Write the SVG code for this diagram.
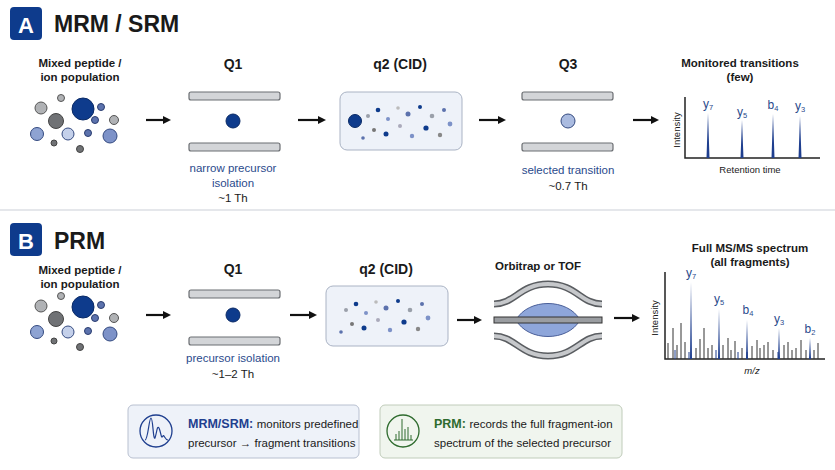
<svg xmlns="http://www.w3.org/2000/svg" width="835" height="470" viewBox="0 0 835 470">
<style>
text{font-family:"Liberation Sans",Arial,sans-serif;fill:#1a1a1a}
.h{font-size:14px;font-weight:bold;text-anchor:middle}
.s{font-size:11.5px;font-weight:bold;text-anchor:middle}
.b{font-size:11.5px;text-anchor:middle;fill:#2a4a8c}
.k{font-size:11.5px;text-anchor:middle}
.rod{fill:#d3d5d8;stroke:#6b6e72;stroke-width:1.2}
.ar{stroke:#111;stroke-width:2.2;fill:none;marker-end:url(#ah)}
.ax{stroke:#222;stroke-width:1.5;fill:none}
.pk{fill:#1f3f8f}
.pl{font-size:12px;fill:#2a4a8c;text-anchor:middle}
.g{fill:#b0b2b5;stroke:#555;stroke-width:1}
.gd{fill:#707275;stroke:#444;stroke-width:1}
.lb{fill:#8ea3d2;stroke:#344a80;stroke-width:1}
.db{fill:#0e3b8c;stroke:#0a2a66;stroke-width:1}
.mb{fill:#5c72ad;stroke:#2a3d70;stroke-width:1}
</style>
<defs>
<marker id="ah" markerWidth="8" markerHeight="8" refX="5" refY="4" orient="auto" markerUnits="userSpaceOnUse"><path d="M0,0 L8,4 L0,8 Z" fill="#111"/></marker>
<g id="cloud">
<circle cx="-34" cy="-12" r="6" class="g"/><circle cx="-14" cy="-22" r="3.5" class="g"/>
<circle cx="8" cy="-11" r="11" class="db"/><circle cx="26" cy="-13" r="3.5" class="mb"/>
<circle cx="-19" cy="1" r="7.5" class="gd"/><circle cx="20" cy="0" r="3.5" class="mb"/>
<circle cx="39" cy="0" r="4.5" class="g"/><circle cx="-38" cy="14" r="6.5" class="lb"/>
<circle cx="-7" cy="14" r="6" class="lb" style="fill:#c4d0ea"/><circle cx="13" cy="13" r="3.5" class="mb"/>
<circle cx="35" cy="16" r="7" class="lb" style="fill:#7d92c8"/><circle cx="-21" cy="23" r="3" class="gd"/>
<circle cx="5" cy="29" r="3.5" class="gd"/>
</g>
<g id="frag">
<circle cx="-40" cy="-6" r="2" fill="#9aa0aa"/><circle cx="-30" cy="-12" r="2.3" fill="#0e3b8c"/>
<circle cx="-20" cy="-3" r="2" fill="#7d92c8"/><circle cx="-10" cy="-14" r="1.8" fill="#bbb"/>
<circle cx="0" cy="-8" r="2.5" fill="#5c72ad"/><circle cx="12" cy="-15" r="2" fill="#0e3b8c"/>
<circle cx="24" cy="-6" r="2.3" fill="#9aa0aa"/><circle cx="36" cy="-12" r="2" fill="#5c72ad"/>
<circle cx="-34" cy="8" r="2" fill="#777"/><circle cx="-22" cy="12" r="2.5" fill="#0e3b8c"/>
<circle cx="-8" cy="4" r="2" fill="#aab"/><circle cx="4" cy="14" r="2.2" fill="#7d92c8"/>
<circle cx="18" cy="6" r="2.6" fill="#0e3b8c"/><circle cx="32" cy="13" r="2.2" fill="#888"/>
<circle cx="42" cy="2" r="2.4" fill="#7d92c8"/><circle cx="-45" cy="16" r="1.8" fill="#5c72ad"/>
</g>
</defs>
<rect width="835" height="470" fill="#ffffff"/>

<g id="sectionA">
<rect x="10" y="7" width="32" height="33" rx="4" fill="#0e3b8c"/>
<text x="26" y="33" style="font-size:22px;font-weight:bold;fill:#fff;text-anchor:middle">A</text>
<text x="54" y="32" style="font-size:23px;font-weight:bold">MRM / SRM</text>
</g>
<g id="a-ions"><text x="80" y="67" class="s">Mixed peptide /</text><text x="80" y="81" class="s">ion population</text><use href="#cloud" x="75" y="120"/></g>
<g id="a-q1"><text x="233" y="69" class="h">Q1</text>
<rect x="189" y="92" width="91" height="8" rx="2" class="rod"/><rect x="189" y="143" width="91" height="8" rx="2" class="rod"/>
<circle cx="233" cy="121" r="7" class="db"/>
<text x="233" y="172" class="b">narrow precursor</text><text x="233" y="187" class="b">isolation</text><text x="233" y="202" class="k">~1 Th</text></g>
<g id="a-q2"><text x="400" y="69" class="h">q2 (CID)</text>
<rect x="340" y="92" width="122" height="58" rx="7" fill="#eef2f9" stroke="#aab3c4"/>
<circle cx="355" cy="121" r="6.5" class="db"/><use href="#frag" x="408" y="122"/></g>
<g id="a-q3"><text x="568" y="69" class="h">Q3</text>
<rect x="522" y="92" width="91" height="8" rx="2" class="rod"/><rect x="522" y="143" width="91" height="8" rx="2" class="rod"/>
<circle cx="568" cy="121" r="7" class="lb" style="fill:#aabbe0"/>
<text x="568" y="174" class="b">selected transition</text><text x="568" y="190" class="k">~0.7 Th</text></g>
<g id="a-spec"><text x="740" y="67" class="s">Monitored transitions</text><text x="740" y="81" class="s">(few)</text>
<path d="M685,97 V158 H820" class="ax"/>
<text transform="translate(680,130) rotate(-90)" style="font-size:9.5px;text-anchor:middle">Intensity</text>
<text x="750" y="173" style="font-size:9.5px;text-anchor:middle">Retention time</text>
<path d="M706.5,158 L708,113 L709.5,158Z M740.5,158 L742,120 L743.5,158Z M771.5,158 L773,114 L774.5,158Z M798.5,158 L800,116 L801.5,158Z" class="pk"/>
<text x="708" y="108" class="pl">y<tspan font-size="7.5" dy="2">7</tspan></text>
<text x="742" y="116" class="pl">y<tspan font-size="7.5" dy="2">5</tspan></text>
<text x="773" y="109" class="pl">b<tspan font-size="7.5" dy="2">4</tspan></text>
<text x="800" y="110" class="pl">y<tspan font-size="7.5" dy="2">3</tspan></text></g>

<line x1="0" y1="210" x2="835" y2="210" stroke="#dcdfe4" stroke-width="1.5"/>

<g id="sectionB">
<rect x="10" y="223" width="32" height="33" rx="4" fill="#0e3b8c"/>
<text x="26" y="249" style="font-size:22px;font-weight:bold;fill:#fff;text-anchor:middle">B</text>
<text x="54" y="249" style="font-size:23px;font-weight:bold">PRM</text>
</g>
<g id="b-ions"><text x="80" y="274" class="s">Mixed peptide /</text><text x="80" y="288" class="s">ion population</text><use href="#cloud" x="75" y="318"/></g>
<g id="b-q1"><text x="233" y="274" class="h">Q1</text>
<rect x="189" y="290" width="91" height="8" rx="2" class="rod"/><rect x="189" y="337" width="91" height="8" rx="2" class="rod"/>
<circle cx="233" cy="315" r="7" class="db"/>
<text x="233" y="362" class="b">precursor isolation</text><text x="233" y="378" class="k">~1–2 Th</text></g>
<g id="b-q2"><text x="386" y="274" class="h">q2 (CID)</text>
<rect x="326" y="286" width="122" height="60" rx="7" fill="#eef2f9" stroke="#aab3c4"/>
<use href="#frag" x="386" y="316"/></g>
<g id="b-orbi"><text x="538" y="270" class="s">Orbitrap or TOF</text>
<path d="M494,304 C515,304 520,284 548,284 C576,284 581,304 602,304" fill="none" stroke="#5a5d61" stroke-width="7"/>
<path d="M494,304 C515,304 520,284 548,284 C576,284 581,304 602,304" fill="none" stroke="#c6c8cb" stroke-width="4"/>
<path d="M494,336 C515,336 520,356 548,356 C576,356 581,336 602,336" fill="none" stroke="#5a5d61" stroke-width="7"/>
<path d="M494,336 C515,336 520,356 548,356 C576,356 581,336 602,336" fill="none" stroke="#c6c8cb" stroke-width="4"/>
<path d="M516,320 C528,298 568,298 580,320 C568,342 528,342 516,320Z" fill="#8ea6da" stroke="#4a5f99"/>
<rect x="494" y="317" width="108" height="6" fill="#9a9da1" stroke="#333"/></g>
<g id="b-spec"><text x="750" y="252" class="s">Full MS/MS spectrum</text><text x="750" y="266" class="s">(all fragments)</text>
<path d="M665,272 V359 H825" class="ax"/>
<text transform="translate(658,318) rotate(-90)" style="font-size:9.5px;text-anchor:middle">Intensity</text>
<text x="752" y="374" style="font-size:9.5px;font-style:italic;text-anchor:middle">m/z</text>
<path d="M668,359V343 M673,359V328 M677,359V345 M681,359V323 M685,359V342 M696,359V348 M700,359V339 M704,359V328 M708,359V348 M712,359V345 M723,359V345 M728,359V338 M731,359V350 M735,359V341 M742,359V348 M752,359V346 M757,359V340 M760,359V348 M764,359V345 M768,359V342 M773,359V350 M784,359V345 M788,359V342 M792,359V350 M796,359V348 M801,359V340 M806,359V350 M814,359V350 M818,359V343" stroke="#333" stroke-width="1"/>
<path d="M675,359V350 M689,359V352 M716,359V350 M738,359V352 M747,359V352 M778,359V352" stroke="#1f3f8f" stroke-width="1"/>
<path d="M690,359 L691,282 L692,359Z M718,359 L719,309 L720,359Z M746,359 L747,320 L748,359Z M778,359 L779,328 L780,359Z M809,359 L810,338 L811,359Z" class="pk"/>
<text x="691" y="277" class="pl">y<tspan font-size="7.5" dy="2">7</tspan></text>
<text x="719" y="303" class="pl">y<tspan font-size="7.5" dy="2">5</tspan></text>
<text x="748" y="314" class="pl">b<tspan font-size="7.5" dy="2">4</tspan></text>
<text x="779" y="323" class="pl">y<tspan font-size="7.5" dy="2">3</tspan></text>
<text x="810" y="333" class="pl">b<tspan font-size="7.5" dy="2">2</tspan></text></g>

<g id="connectors">
<path d="M146,120 H168" class="ar"/><path d="M298,120 H323" class="ar"/>
<path d="M479,120 H503" class="ar"/><path d="M633,120 H656" class="ar"/>
<path d="M146,315 H168" class="ar"/><path d="M290,315 H314" class="ar"/>
<path d="M457,320 H479" class="ar"/><path d="M614,318 H637" class="ar"/>
</g>

<g id="legend-mrm">
<rect x="128" y="405" width="231" height="53" rx="5" fill="#eef2f9" stroke="#b8c0d0"/>
<circle cx="156" cy="431" r="16" fill="none" stroke="#1f3f8f" stroke-width="1.3"/>
<path d="M145,440 C148,440 149,418 151,418 C153,418 153,440 155,438 C157,432 157,425 159,428 C161,432 161,440 163,436 C164,434 165,440 168,440" fill="none" stroke="#1f3f8f" stroke-width="1.2"/>
<text x="188" y="428" style="font-size:12.5px"><tspan style="font-weight:bold;fill:#1f3f8f">MRM/SRM:</tspan> <tspan style="font-size:11.5px">monitors predefined</tspan></text>
<text x="188" y="447" style="font-size:11.5px">precursor → fragment transitions</text>
</g>
<g id="legend-prm">
<rect x="380" y="405" width="242" height="53" rx="5" fill="#f0f5ee" stroke="#c0ccba"/>
<circle cx="403" cy="431" r="16" fill="none" stroke="#2e6b2e" stroke-width="1.3"/>
<path d="M396,440V434 M399,440V431 M402,440V419 M405,440V429 M408,440V427 M411,440V435 M394,440 H413" stroke="#2e6b2e" stroke-width="1"/>
<text x="434" y="428" style="font-size:12.5px"><tspan style="font-weight:bold;fill:#2e6b2e">PRM:</tspan> <tspan style="font-size:11.5px">records the full fragment-ion</tspan></text>
<text x="434" y="447" style="font-size:11.5px">spectrum of the selected precursor</text>
</g>
</svg>
